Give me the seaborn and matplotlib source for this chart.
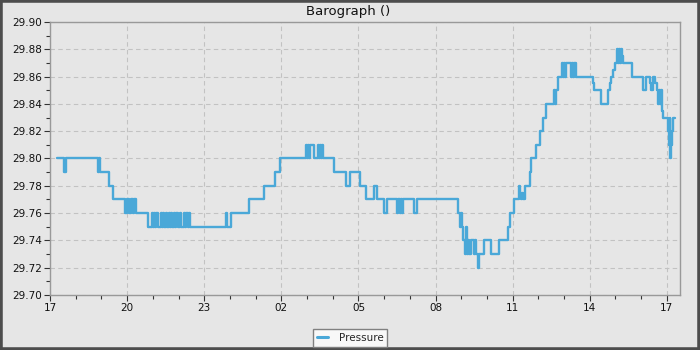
import matplotlib
matplotlib.use("Agg")
import matplotlib.pyplot as plt
from matplotlib.patches import Rectangle
from matplotlib.ticker import MultipleLocator, FormatStrFormatter
import seaborn as sns
import pandas as pd

# hours since 17:00
hours = [
    0.27, 0.54, 0.62, 1.86, 1.90, 1.95, 2.30, 2.45, 2.92, 3.00, 3.08, 3.14, 3.22, 3.28, 3.35,
    3.81, 3.98, 4.02, 4.06, 4.10, 4.14, 4.20, 4.30, 4.34, 4.40, 4.44, 4.50, 4.56, 4.62, 4.66,
    4.72, 4.76, 4.82, 4.86, 4.92, 4.98, 5.04, 5.10, 5.20, 5.25, 5.30, 5.35, 5.40, 5.46,
    6.85, 6.89, 7.04, 7.74, 8.33, 8.75, 8.95,
    9.96, 10.00, 10.04, 10.08, 10.12, 10.27, 10.43, 10.47, 10.51, 10.55, 10.58, 10.62,
    11.05, 11.52, 11.67, 12.06, 12.30, 12.61, 12.72, 13.00, 13.11,
    13.50, 13.55, 13.60, 13.66, 13.70, 13.74, 14.16, 14.28,
    15.88, 15.95, 15.99, 16.03, 16.07, 16.13, 16.19, 16.23, 16.28, 16.32, 16.38, 16.50, 16.54,
    16.58, 16.65, 16.69, 16.89, 17.16, 17.47, 17.82, 17.90, 18.05,
    18.25, 18.30, 18.34, 18.38, 18.42, 18.48, 18.68, 18.72, 18.91, 19.07, 19.18, 19.30,
    19.61, 19.65, 19.70, 19.75, 19.92, 19.96, 20.00, 20.04, 20.08, 20.27, 20.31, 20.36, 20.40,
    20.47, 21.13, 21.17, 21.44, 21.71, 21.78, 21.83, 21.91, 21.98,
    22.06, 22.10, 22.14, 22.18, 22.22, 22.26, 22.30, 22.65,
    23.07, 23.19, 23.35, 23.38, 23.46, 23.54, 23.62, 23.66, 23.70, 23.74, 23.78, 23.82, 23.85,
    24.05, 24.08, 24.11, 24.13, 24.16, 24.19, 24.24, 24.32,
]
pressure = [
    29.80, 29.79, 29.80, 29.79, 29.80, 29.79, 29.78, 29.77, 29.76, 29.77, 29.76, 29.77, 29.76, 29.77, 29.76,
    29.75, 29.76, 29.75, 29.76, 29.75, 29.76, 29.75, 29.76, 29.75, 29.76, 29.75, 29.76, 29.75, 29.76, 29.75,
    29.76, 29.75, 29.76, 29.75, 29.76, 29.75, 29.76, 29.75, 29.76, 29.75, 29.76, 29.75, 29.76, 29.75,
    29.76, 29.75, 29.76, 29.77, 29.78, 29.79, 29.80,
    29.81, 29.80, 29.81, 29.80, 29.81, 29.80, 29.81, 29.80, 29.81, 29.80, 29.81, 29.80,
    29.79, 29.78, 29.79, 29.78, 29.77, 29.78, 29.77, 29.76, 29.77,
    29.76, 29.77, 29.76, 29.77, 29.76, 29.77, 29.76, 29.77,
    29.76, 29.75, 29.76, 29.75, 29.74, 29.73, 29.75, 29.73, 29.74, 29.73, 29.74, 29.73, 29.74,
    29.73, 29.72, 29.73, 29.74, 29.73, 29.74, 29.75, 29.76, 29.77,
    29.78, 29.775, 29.77, 29.775, 29.77, 29.78, 29.79, 29.80, 29.81, 29.82, 29.83, 29.84,
    29.85, 29.84, 29.85, 29.86, 29.87, 29.86, 29.87, 29.86, 29.87, 29.86, 29.87, 29.86, 29.87,
    29.86, 29.855, 29.85, 29.84, 29.85, 29.855, 29.86, 29.865, 29.87,
    29.88, 29.87, 29.88, 29.87, 29.88, 29.875, 29.87, 29.86,
    29.85, 29.86, 29.855, 29.85, 29.86, 29.855, 29.85, 29.84, 29.85, 29.84, 29.85, 29.835, 29.83,
    29.82, 29.81, 29.83, 29.80, 29.81, 29.82, 29.83, 29.83,
]

tick_hours = [0, 3, 6, 9, 12, 15, 18, 21, 24]
tick_labels = ["17", "20", "23", "02", "05", "08", "11", "14", "17"]
series_name = "Pressure"
title = "Barograph ()"

df = pd.DataFrame({"hour": hours, "value": pressure, "series": series_name})

bg = "#e6e6e6"
sns.set_style("white")
plt.rcParams["font.family"] = ["DejaVu Sans"]

fig = plt.figure(figsize=(7, 3.5), dpi=100, facecolor=bg)
ax = fig.add_axes([50 / 700, 1 - 295 / 350, 630 / 700, 273 / 350])
ax.set_facecolor(bg)

sns.lineplot(data=df, x="hour", y="value", hue="series", palette=["#4aa8d8"],
             estimator=None, sort=False, drawstyle="steps-post", linewidth=1.7,
             ax=ax, legend=True)

ax.set_xlim(0, 24.51)
ax.set_ylim(29.70, 29.90)
ax.set_xticks(tick_hours)
ax.set_xticklabels(tick_labels)
ax.xaxis.set_minor_locator(MultipleLocator(1))
ax.yaxis.set_major_locator(MultipleLocator(0.02))
ax.yaxis.set_minor_locator(MultipleLocator(0.01))
ax.yaxis.set_major_formatter(FormatStrFormatter("%.2f"))
ax.set_xlabel("")
ax.set_ylabel("")

ax.tick_params(axis="both", which="major", direction="out", length=4, width=0.8,
               color="#333333", labelsize=7.5, labelcolor="#111111", pad=2)
ax.tick_params(axis="both", which="minor", direction="out", length=3, width=0.8,
               color="#333333")
ax.tick_params(axis="x", which="both", bottom=True)
ax.tick_params(axis="y", which="both", left=True)

for s in ax.spines.values():
    s.set_visible(True)
    s.set_color("#999999")
    s.set_linewidth(1.0)

ax.grid(True, which="major", linestyle=(0, (4, 3)), color="#c2c2c2", linewidth=0.8)
ax.set_axisbelow(True)

leg = ax.get_legend()
handles, labels = ax.get_legend_handles_labels()
if leg is not None:
    leg.remove()
fig.legend(handles, labels, loc="center", bbox_to_anchor=(0.5, 1 - 338 / 350),
           frameon=True, fancybox=False, edgecolor="#808080", facecolor="#f8f8f8",
           framealpha=1, fontsize=7.5, handlelength=1.1, handletextpad=1.0,
           borderpad=0.38, borderaxespad=0)
for lh in fig.legends[0].get_lines():
    lh.set_linewidth(2.2)

fig.text(0.497, 1 - 11 / 350, title, ha="center", va="center", fontsize=9.5, color="#111111")

fig.patches.append(Rectangle((0, 0), 1, 1, transform=fig.transFigure, fill=False,
                             edgecolor="#4d4d4d", linewidth=4))

fig.savefig("out.png", dpi=100, facecolor=bg)
